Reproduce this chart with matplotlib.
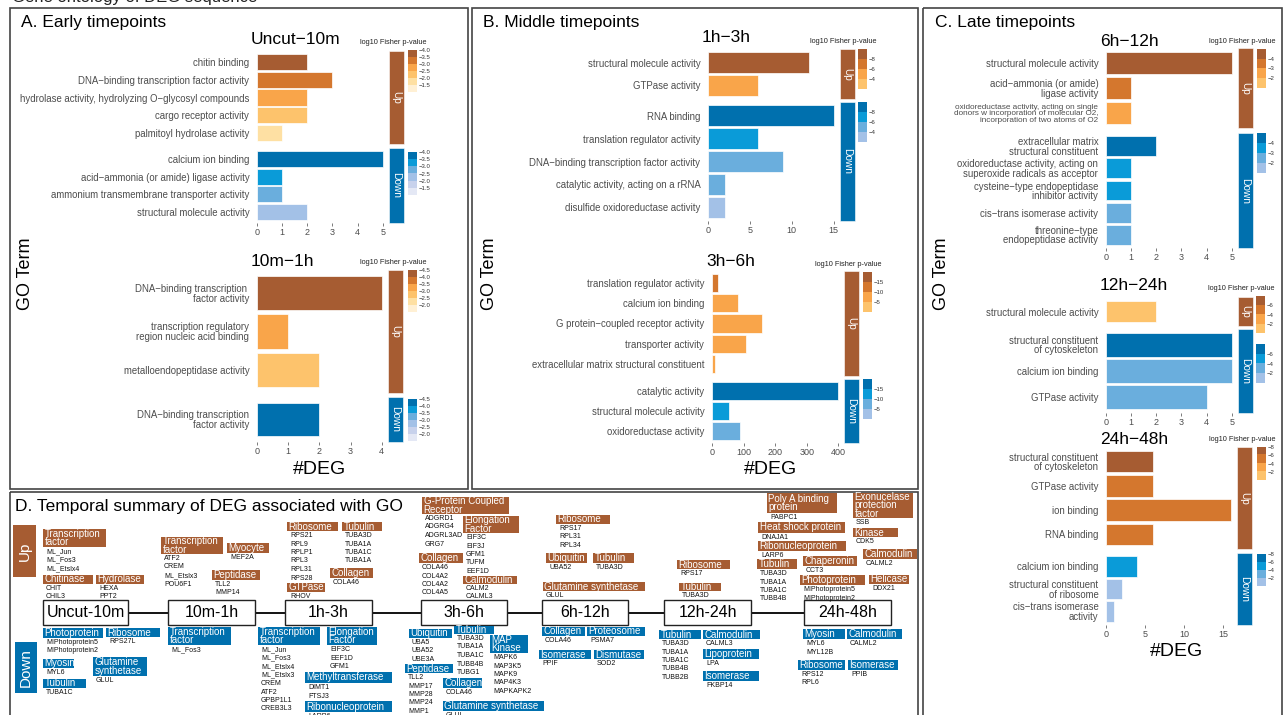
import matplotlib
matplotlib.use("Agg")
import matplotlib.pyplot as plt
import numpy as np
from matplotlib.colors import BoundaryNorm, ListedColormap
from matplotlib.patches import Rectangle

plt.rcParams["font.family"] = ["Liberation Sans", "DejaVu Sans"]

W, H = 1285, 715
TXT = "#4D4D4D"
UP_PAL = ["#A65C32", "#D4772E", "#F9A54A", "#FDC36C", "#FEE0A3", "#FFF0D4"]
DN_PAL = ["#0070AE", "#0A9BD8", "#6AAEDD", "#A3C1E7", "#C8D2EC", "#E4E8F5"]

# ---------------- A. Uncut-10m
UNCUT_UP_TERMS = ["chitin binding", "DNA−binding transcription factor activity",
                  "hydrolase activity, hydrolyzing O−glycosyl compounds",
                  "cargo receptor activity", "palmitoyl hydrolase activity"]
UNCUT_UP_DEG = [2, 3, 2, 2, 1]
UNCUT_UP_LOGP = [-3.8, -3.3, -2.8, -2.3, -1.8]
UNCUT_DN_TERMS = ["calcium ion binding", "acid−ammonia (or amide) ligase activity",
                  "ammonium transmembrane transporter activity",
                  "structural molecule activity"]
UNCUT_DN_DEG = [5, 1, 1, 2]
UNCUT_DN_LOGP = [-3.8, -3.3, -2.8, -2.3]
UNCUT_BINS = [-4.0, -3.5, -3.0, -2.5, -2.0, -1.5, -1.0]
UNCUT_LEG = [-4.0, -3.5, -3.0, -2.5, -2.0, -1.5]
UNCUT_XT = [0, 1, 2, 3, 4, 5]

# ---------------- A. 10m-1h
M10_UP_TERMS = ["DNA−binding transcription \nfactor activity",
                "transcription regulatory\nregion nucleic acid binding",
                "metalloendopeptidase activity"]
M10_UP_DEG = [4, 1, 2]
M10_UP_LOGP = [-4.3, -3.3, -2.8]
M10_DN_TERMS = ["DNA−binding transcription\nfactor activity"]
M10_DN_DEG = [2]
M10_DN_LOGP = [-4.3]
M10_BINS = [-4.5, -4.0, -3.5, -3.0, -2.5, -2.0, -1.5]
M10_LEG = [-4.5, -4.0, -3.5, -3.0, -2.5, -2.0]
M10_XT = [0, 1, 2, 3, 4]

# ---------------- B. 1h-3h
H1_UP_TERMS = ["structural molecule activity", "GTPase activity"]
H1_UP_DEG = [12, 6]
H1_UP_LOGP = [-9, -5]
H1_DN_TERMS = ["RNA binding", "translation regulator activity",
               "DNA−binding transcription factor activity",
               "catalytic activity, acting on a rRNA", "disulfide oxidoreductase activity"]
H1_DN_DEG = [15, 6, 9, 2, 2]
H1_DN_LOGP = [-9, -7, -5, -5, -3]
H1_BINS = [-10, -8, -6, -4, -2]
H1_LEG = [-8, -6, -4]
H1_XT = [0, 5, 10, 15]

# ---------------- B. 3h-6h
H3_UP_TERMS = ["translation regulator activity", "calcium ion binding",
               "G protein−coupled receptor activity", "transporter activity",
               "extracellular matrix structural constituent"]
H3_UP_DEG = [18, 83, 159, 107, 10]
H3_UP_LOGP = [-12, -7, -7, -7, -7]
H3_DN_TERMS = ["catalytic activity", "structural molecule activity", "oxidoreductase activity"]
H3_DN_DEG = [398, 54, 89]
H3_DN_LOGP = [-17, -12, -7]
H3_BINS = [-20, -15, -10, -5, 0]
H3_LEG = [-15, -10, -5]
H3_XT = [0, 100, 200, 300, 400]

# ---------------- C. 6h-12h
H6_UP_TERMS = ["structural molecule activity", "acid−ammonia (or amide)\nligase activity",
               "oxidoreductase activity, acting on single\ndonors w incorporation of molecular O2,\n"
               "incorporation of two atoms of O2"]
H6_UP_DEG = [5, 1, 1]
H6_UP_LOGP = [-4.5, -3.5, -2.5]
H6_DN_TERMS = ["extracellular matrix\nstructural constituent",
               "oxidoreductase activity, acting on\nsuperoxide radicals as acceptor",
               "cysteine−type endopeptidase\ninhibitor activity",
               "cis−trans isomerase activity", "threonine−type\nendopeptidase activity"]
H6_DN_DEG = [2, 1, 1, 1, 1]
H6_DN_LOGP = [-4.5, -3.5, -3.5, -2.5, -2.5]
H6_BINS = [-5, -4, -3, -2, -1]
H6_LEG = [-4, -3, -2]
H6_XT = [0, 1, 2, 3, 4, 5]

# ---------------- C. 12h-24h
H12_UP_TERMS = ["structural molecule activity"]
H12_UP_DEG = [2]
H12_UP_LOGP = [-1]
H12_DN_TERMS = ["structural constituent\nof cytoskeleton", "calcium ion binding", "GTPase activity"]
H12_DN_DEG = [5, 5, 4]
H12_DN_LOGP = [-7, -3, -3]
H12_BINS = [-8, -6, -4, -2, 0]
H12_LEG = [-6, -4, -2]
H12_XT = [0, 1, 2, 3, 4, 5]

# ---------------- C. 24h-48h
H24_UP_TERMS = ["structural constituent\nof cytoskeleton", "GTPase activity",
                "ion binding", "RNA binding"]
H24_UP_DEG = [6, 6, 16, 6]
H24_UP_LOGP = [-7, -5, -5, -5]
H24_DN_TERMS = ["calcium ion binding", "structural constituent\nof ribosome",
                "cis−trans isomerase\nactivity"]
H24_DN_DEG = [4, 2, 1]
H24_DN_LOGP = [-5, -1, -1]
H24_BINS = [-8, -6, -4, -2, 0]
H24_LEG = [-8, -6, -4, -2]
H24_XT = [0, 5, 10, 15]

# ---------------- D. temporal summary
D_TIMES = ["Uncut-10m", "10m-1h", "1h-3h", "3h-6h", "6h-12h", "12h-24h", "24h-48h"]
D_UP_CATS = ["Transcription\nfactor", "Chitinase", "Hydrolase", "Transcription\nfactor",
             "Myocyte", "Peptidase", "Ribosome", "Tubulin", "Collagen", "GTPase",
             "G-Protein Coupled\nReceptor", "Elongation\nFactor", "Collagen", "Calmodulin",
             "Ribosome", "Ubiquitin", "Tubulin", "Glutamine synthetase", "Ribosome", "Tubulin",
             "Poly A binding\nprotein", "Heat shock protein", "Ribonucleoprotein", "Tubulin",
             "Chaperonin", "Photoprotein", "Exonucelase\nprotection\nfactor", "Kinase",
             "Calmodulin", "Helicase"]
D_UP_GENES = [["ML_Jun", "ML_Fos3", "ML_Etslx4"], ["CHIT", "CHIL3"], ["HEXA", "PPT2"],
              ["ATF2", "CREM", "ML_Etslx3", "POU6F1"], ["MEF2A"], ["TLL2", "MMP14"],
              ["RPS21", "RPL9", "RPLP1", "RPL3", "RPL31", "RPS28"],
              ["TUBA3D", "TUBA1A", "TUBA1C", "TUBA1A"], ["COLA46"], ["RHOV"],
              ["ADGRD1", "ADGRG4", "ADGRL3AD", "GRG7"], ["EIF3C", "EIF3J", "GFM1", "TUFM", "EEF1D"],
              ["COLA46", "COL4A2", "COL4A2", "COL4A5"], ["CALM2", "CALML3"],
              ["RPS17", "RPL31", "RPL34"], ["UBA52"], ["TUBA3D"], ["GLUL"], ["RPS17"], ["TUBA3D"],
              ["PABPC1"], ["DNAJA1"], ["LARP6"], ["TUBA3D", "TUBA1A", "TUBA1C", "TUBB4B"],
              ["CCT3"], ["MIPhotoprotein5", "MIPhotoprotein2"], ["SSB"], ["CDK5"], ["CALML2"],
              ["DDX21"]]
D_DN_CATS = ["Photoprotein", "Ribosome", "Myosin", "Glutamine\nsynthetase", "Tubulin",
             "Transcription\nfactor", "Transcription\nfactor", "Elongation\nFactor",
             "Methyltransferase", "Ribonucleoprotein", "Ubiquitin", "Tubulin", "MAP\nKinase",
             "Peptidase", "Collagen", "Glutamine synthetase", "Collagen", "Proteosome",
             "Isomerase", "Dismutase", "Tubulin", "Calmodulin", "Lipoprotein", "Isomerase",
             "Myosin", "Calmodulin", "Ribosome", "Isomerase"]
D_DN_GENES = [["MIPhotoprotein5", "MIPhotoprotein2"], ["RPS27L"], ["MYL6"], ["GLUL"], ["TUBA1C"],
              ["ML_Fos3"],
              ["ML_Jun", "ML_Fos3", "ML_Etslx4", "ML_Etslx3", "CREM", "ATF2", "GPBP1L1", "CREB3L3"],
              ["EIF3C", "EEF1D", "GFM1"], ["DIMT1", "FTSJ3"], ["LARP6"],
              ["UBA5", "UBA52", "UBE3A"], ["TUBA3D", "TUBA1A", "TUBA1C", "TUBB4B", "TUBG1"],
              ["MAPK6", "MAP3K5", "MAPK9", "MAP4K3", "MAPKAPK2"],
              ["TLL2", "MMP17", "MMP28", "MMP24", "MMP1"], ["COLA46"], ["GLUL"], ["COLA46"],
              ["PSMA7"], ["PPIF"], ["SOD2"], ["TUBA3D", "TUBA1A", "TUBA1C", "TUBB4B", "TUBB2B"],
              ["CALML3"], ["LPA"], ["FKBP14"], ["MYL6", "MYL12B"], ["CALML2"], ["RPS12", "RPL6"],
              ["PPIB"]]

# layout of panel D (pixels: left, top, width, height)
D_TIME_BOX = [(43, 85), (168, 87), (285, 87), (421, 86), (542, 86), (664, 87), (804, 87)]
D_UP_BOX = [(43, 529, 63, 18), (43, 575, 50, 9), (96, 575, 48, 9), (161, 537, 62, 17),
            (227, 543, 42, 10), (212, 570, 48, 10), (287, 522, 51, 9), (342, 522, 40, 9),
            (330, 568, 43, 10), (287, 583, 38, 9), (422, 497, 87, 17), (463, 516, 56, 17),
            (419, 553, 44, 10), (463, 576, 54, 8), (556, 515, 54, 9), (546, 553, 41, 10),
            (593, 553, 41, 10), (543, 582, 102, 9), (677, 560, 53, 9), (679, 583, 42, 8),
            (767, 493, 70, 20), (758, 522, 87, 11), (758, 541, 88, 10), (757, 559, 40, 10),
            (803, 556, 54, 10), (800, 575, 65, 10), (853, 493, 60, 25), (853, 528, 45, 9),
            (863, 549, 54, 10), (869, 575, 40, 9)]
D_DN_BOX = [(43, 628, 60, 10), (106, 628, 54, 9), (43, 659, 31, 9), (93, 657, 54, 19),
            (43, 679, 43, 9), (168, 627, 63, 18), (258, 627, 62, 18), (327, 627, 50, 18),
            (305, 672, 87, 11), (305, 701, 87, 11), (409, 629, 43, 9), (454, 626, 40, 8),
            (490, 635, 38, 18), (405, 664, 48, 9), (443, 678, 39, 10), (443, 701, 101, 10),
            (542, 627, 43, 9), (587, 627, 58, 9), (539, 650, 52, 9), (594, 650, 50, 9),
            (659, 630, 42, 9), (703, 630, 57, 9), (703, 649, 56, 10), (703, 671, 56, 10),
            (803, 629, 42, 10), (847, 629, 55, 10), (798, 660, 47, 10), (848, 660, 50, 10)]


def px_rect(x, y, w, h):
    return [x / W, 1 - (y + h) / H, w / W, h / H]


def fmt_tick(t, ticks):
    s = f"{t:d}" if all(isinstance(v, int) for v in ticks) else f"{t:.1f}"
    return s.replace("-", "\u2212")


def draw_bars(ax, terms, deg, logp, cmap, norm, xmax):
    yy = np.arange(len(terms))
    ax.barh(yy, deg, height=0.9, color=cmap(norm(np.array(logp, float))),
            edgecolor="white", linewidth=0.5)
    ax.set_ylim(len(terms) - 0.4, -0.6)
    ax.set_xlim(0, xmax)
    ax.set_yticks(yy)
    ax.set_yticklabels(terms, fontsize=6.9, color=TXT, linespacing=0.95)
    for lab in ax.get_yticklabels():
        if lab.get_text().count("\n") >= 2:
            lab.set_fontsize(5.9)
    ax.tick_params(axis="y", length=0, pad=5.5)
    ax.set_facecolor("none")
    for s in ax.spines.values():
        s.set_visible(False)


def draw_legend(fig, x, top, bot, pal, bins, ticks):
    n = len(bins) - 1
    ax = fig.add_axes(px_rect(x, top, 9, bot - top))
    ax.imshow(np.arange(n).reshape(-1, 1), cmap=ListedColormap(pal[:n]), aspect="auto",
              extent=[0, 1, bins[-1], bins[0]], interpolation="nearest")
    ax.set_xticks([])
    ax.yaxis.tick_right()
    ax.set_yticks(ticks)
    ax.set_yticklabels([fmt_tick(t, ticks) for t in ticks], fontsize=4.3, color="#333333")
    ax.tick_params(axis="y", length=0, pad=1.5)
    for s in ax.spines.values():
        s.set_visible(False)


def go_subplot(fig, ov, title, up, dn, bins, ticks, xticks, lay):
    x0, x1, ut, ub, dt, db, ty, lx, lu, ld = lay
    n = len(bins) - 1
    norm = BoundaryNorm(bins, n, clip=True)
    xmax = 1.05 * max(max(up[1]), max(dn[1]))
    ax_u = fig.add_axes(px_rect(x0, ut, x1 - x0, ub - ut))
    ax_d = fig.add_axes(px_rect(x0, dt, x1 - x0, db - dt))
    draw_bars(ax_u, *up, ListedColormap(UP_PAL[:n]), norm, xmax)
    draw_bars(ax_d, *dn, ListedColormap(DN_PAL[:n]), norm, xmax)
    ax_u.tick_params(axis="x", bottom=False, labelbottom=False)
    ax_d.set_xticks(xticks)
    ax_d.tick_params(axis="x", length=2, width=0.6, color="#666666", labelsize=6.5,
                     labelcolor=TXT, pad=1.5)
    for (top, bot), col, lab in (((ut, ub), UP_PAL[0], "Up"), ((dt, db), DN_PAL[0], "Down")):
        ov.add_patch(Rectangle((x1, top), 15, bot - top, fc=col, ec="white", lw=0.4))
        ov.text(x1 + 7.5, (top + bot) / 2, lab, rotation=270, ha="center", va="center",
                color="white", fontsize=7.3)
    ov.text(x0 - 6, ty, title, fontsize=12.5, ha="left", va="center")
    ov.text(lx - 15, lu[0] - 7.5, "log10 Fisher p-value", fontsize=5.3, ha="center",
            va="center", color="#222222")
    draw_legend(fig, lx, lu[0], lu[1], UP_PAL, bins, ticks)
    draw_legend(fig, lx, ld[0], ld[1], DN_PAL, bins, ticks)


def draw_categories(ov, cats, genes, boxes, color):
    for cat, gl, (x, y, w, h) in zip(cats, genes, boxes):
        ov.add_patch(Rectangle((x, y), w, h, fc=color, ec="none", zorder=3))
        ov.text(x + 1.5, y + h / 2, cat, fontsize=7.0, color="white", ha="left", va="center",
                linespacing=0.82, zorder=4)
        for i, g in enumerate(gl):
            ov.text(x + 3, y + h + 4.5 + 8.5 * i, g, fontsize=5, color="#111111",
                    ha="left", va="center", zorder=4)


def main() -> None:
    fig = plt.figure(figsize=(W / 100, H / 100), dpi=100)
    ov = fig.add_axes([0, 0, 1, 1])
    ov.set_xlim(0, W)
    ov.set_ylim(H, 0)
    ov.axis("off")

    # heading of the figure, cut by the top edge as in the source
    ov.text(12, 2, "Gene ontology of DEG sequence", fontsize=12, va="baseline", color="#222222")

    # panel frames
    for (x, y, w, h) in [(10, 8, 458, 481), (472, 8, 446, 481), (923, 8, 359, 710),
                         (10, 492, 908, 226)]:
        ov.add_patch(Rectangle((x, y), w, h, fc="none", ec="#444444", lw=1.2))

    ov.text(21, 23, "A. Early timepoints", fontsize=12.5, va="center")
    ov.text(483, 23, "B. Middle timepoints", fontsize=12.5, va="center")
    ov.text(935, 23, "C. Late timepoints", fontsize=12.5, va="center")
    for x in (25, 489, 941):
        ov.text(x, 274, "GO Term", fontsize=13, rotation=90, ha="center", va="center")
    for x, y in ((320, 470), (771, 470), (1177, 652)):
        ov.text(x, y, "#DEG", fontsize=14, ha="center", va="center")

    go_subplot(fig, ov, "Uncut\u221210m",
               (UNCUT_UP_TERMS, UNCUT_UP_DEG, UNCUT_UP_LOGP),
               (UNCUT_DN_TERMS, UNCUT_DN_DEG, UNCUT_DN_LOGP), UNCUT_BINS, UNCUT_LEG, UNCUT_XT,
               (257, 389, 51, 144, 148, 223, 40, 408, (50, 92), (152, 195)))
    go_subplot(fig, ov, "10m\u22121h",
               (M10_UP_TERMS, M10_UP_DEG, M10_UP_LOGP),
               (M10_DN_TERMS, M10_DN_DEG, M10_DN_LOGP), M10_BINS, M10_LEG, M10_XT,
               (257, 388, 270, 393, 397, 442, 262, 408, (270, 312), (399, 441)))
    go_subplot(fig, ov, "1h\u22123h",
               (H1_UP_TERMS, H1_UP_DEG, H1_UP_LOGP),
               (H1_DN_TERMS, H1_DN_DEG, H1_DN_LOGP), H1_BINS, H1_LEG, H1_XT,
               (708, 840, 49, 99, 102, 221, 38, 858, (49, 89), (102, 142)))
    go_subplot(fig, ov, "3h\u22126h",
               (H3_UP_TERMS, H3_UP_DEG, H3_UP_LOGP),
               (H3_DN_TERMS, H3_DN_DEG, H3_DN_LOGP), H3_BINS, H3_LEG, H3_XT,
               (712, 844, 271, 376, 379, 443, 262, 863, (272, 312), (379, 419)))
    go_subplot(fig, ov, "6h\u221212h",
               (H6_UP_TERMS, H6_UP_DEG, H6_UP_LOGP),
               (H6_DN_TERMS, H6_DN_DEG, H6_DN_LOGP), H6_BINS, H6_LEG, H6_XT,
               (1106, 1238, 48, 128, 133, 248, 42, 1257, (49, 88), (133, 173)))
    go_subplot(fig, ov, "12h\u221224h",
               (H12_UP_TERMS, H12_UP_DEG, H12_UP_LOGP),
               (H12_DN_TERMS, H12_DN_DEG, H12_DN_LOGP), H12_BINS, H12_LEG, H12_XT,
               (1106, 1238, 297, 326, 329, 413, 285, 1256, (296, 333), (344, 383)))
    go_subplot(fig, ov, "24h\u221248h",
               (H24_UP_TERMS, H24_UP_DEG, H24_UP_LOGP),
               (H24_DN_TERMS, H24_DN_DEG, H24_DN_LOGP), H24_BINS, H24_LEG, H24_XT,
               (1106, 1237, 447, 549, 553, 625, 440, 1257, (447, 480), (554, 586)))

    # ---- panel D
    ov.text(15, 507, "D. Temporal summary of DEG associated with GO", fontsize=12.5, va="center")
    ov.add_patch(Rectangle((13, 525), 23, 52, fc=UP_PAL[0], ec="none"))
    ov.text(24.5, 551, "Up", rotation=90, color="white", fontsize=11, ha="center", va="center")
    ov.add_patch(Rectangle((15, 642), 22, 51, fc=DN_PAL[0], ec="none"))
    ov.text(26, 667.5, "Down", rotation=90, color="white", fontsize=11, ha="center", va="center")

    ty0, th = 600, 25
    ov.plot([D_TIME_BOX[0][0] + 40, D_TIME_BOX[-1][0] + 40], [ty0 + th / 2] * 2,
            color="black", lw=1.3, zorder=1)
    for name, (x, w) in zip(D_TIMES, D_TIME_BOX):
        ov.add_patch(Rectangle((x, ty0), w, th, fc="white", ec="#222222", lw=1.0, zorder=2))
        ov.text(x + w / 2, ty0 + th / 2, name, fontsize=11.5, ha="center", va="center", zorder=3)

    draw_categories(ov, D_UP_CATS, D_UP_GENES, D_UP_BOX, UP_PAL[0])
    draw_categories(ov, D_DN_CATS, D_DN_GENES, D_DN_BOX, DN_PAL[0])

    fig.savefig("out.png", dpi=100)


if __name__ == "__main__":
    main()
